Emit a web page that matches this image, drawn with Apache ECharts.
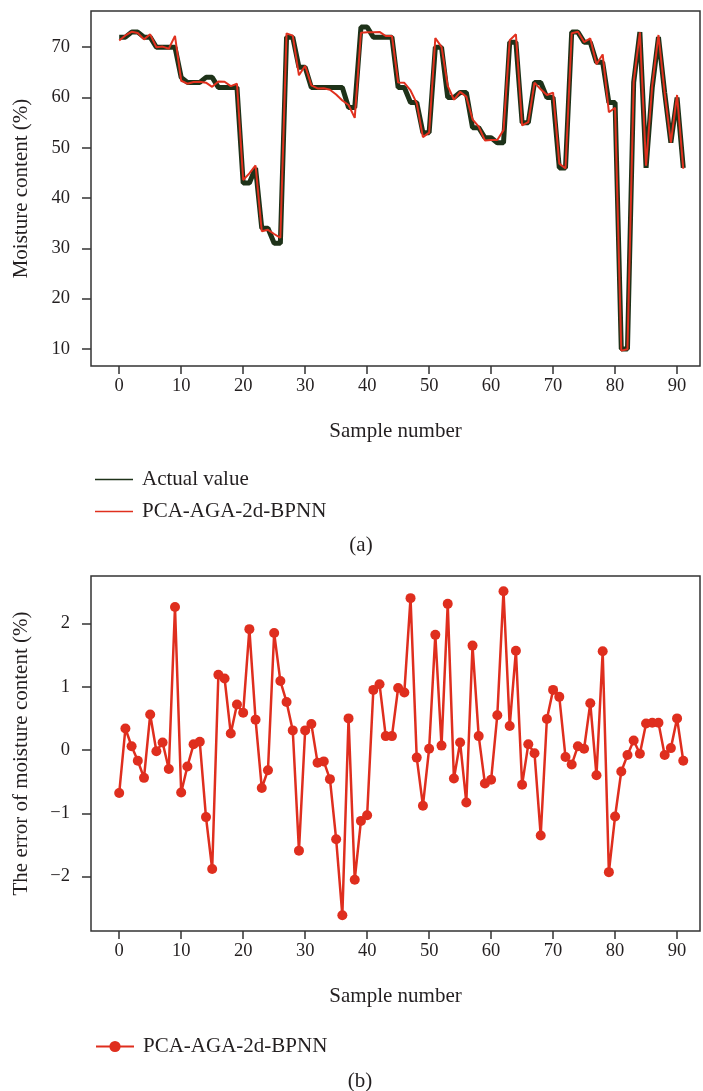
<!DOCTYPE html>
<html lang="en">
<head>
<meta charset="UTF-8">
<title>Moisture content</title>
<script src="https://cdn.jsdelivr.net/npm/echarts@6/dist/echarts.min.js"></script>
<style>
    html, body { margin: 0; padding: 0; background: #fff; }
    #chart { width: 703px; height: 1091px; }
</style>
</head>
<body>
<div id="chart"></div>
<script>
    // measured moisture content, sample 0..91
    var actualValues = [72, 72, 73, 73, 72, 72, 70, 70, 70, 70,
        64, 63, 63, 63, 64, 64, 62, 62, 62, 62,
        43, 43, 46, 34, 34, 31, 31, 72, 72, 66,
        66, 62, 62, 62, 62, 62, 62, 58, 58, 74,
        74, 72, 72, 72, 72, 62, 62, 59, 59, 53,
        53, 70, 70, 60, 60, 61, 61, 54, 54, 52,
        52, 51, 51, 71, 71, 55, 55, 63, 63, 60,
        60, 46, 46, 73, 73, 71, 71, 67, 67, 59,
        59, 10, 10, 63, 73, 46, 62, 72, 61, 51,
        60, 46];
    // model output
    var predictedValues = [71.32, 72.34, 73.06, 72.83, 71.56, 72.56, 69.98, 70.12, 69.70, 72.26,
        63.33, 62.74, 63.09, 63.13, 62.94, 62.12, 63.19, 63.13, 62.26, 62.72,
        43.59, 44.91, 46.48, 33.40, 33.68, 32.85, 32.09, 72.76, 72.31, 64.41,
        66.31, 62.41, 61.80, 61.82, 61.54, 60.59, 59.39, 58.50, 55.95, 72.88,
        72.97, 72.95, 73.04, 72.22, 72.22, 62.98, 62.91, 61.40, 58.88, 52.12,
        53.02, 71.82, 70.07, 62.31, 59.55, 61.12, 60.17, 55.65, 54.22, 51.47,
        51.53, 51.55, 53.51, 71.38, 72.57, 54.45, 55.09, 62.95, 61.65, 60.49,
        60.95, 46.84, 45.89, 72.77, 73.06, 71.02, 71.74, 66.60, 68.56, 57.07,
        57.95, 9.66, 9.92, 63.15, 72.94, 46.42, 62.43, 72.43, 60.92, 51.03,
        60.50, 45.83];
    // prediction error
    var errorValues = [-0.68, 0.34, 0.06, -0.17, -0.44, 0.56, -0.02, 0.12, -0.30, 2.26,
        -0.67, -0.26, 0.09, 0.13, -1.06, -1.88, 1.19, 1.13, 0.26, 0.72,
        0.59, 1.91, 0.48, -0.60, -0.32, 1.85, 1.09, 0.76, 0.31, -1.59,
        0.31, 0.41, -0.20, -0.18, -0.46, -1.41, -2.61, 0.50, -2.05, -1.12,
        -1.03, 0.95, 1.04, 0.22, 0.22, 0.98, 0.91, 2.40, -0.12, -0.88,
        0.02, 1.82, 0.07, 2.31, -0.45, 0.12, -0.83, 1.65, 0.22, -0.53,
        -0.47, 0.55, 2.51, 0.38, 1.57, -0.55, 0.09, -0.05, -1.35, 0.49,
        0.95, 0.84, -0.11, -0.23, 0.06, 0.02, 0.74, -0.40, 1.56, -1.93,
        -1.05, -0.34, -0.08, 0.15, -0.06, 0.42, 0.43, 0.43, -0.08, 0.03,
        0.50, -0.17];
    var xTicks = [0, 10, 20, 30, 40, 50, 60, 70, 80, 90];
    var moistureTicks = [10, 20, 30, 40, 50, 60, 70];
    var errorTicks = [-2, -1, 0, 1, 2];

    var font = 'Liberation Serif';
    var ink = '#231f20';
    var frame = '#333333';

    function pairs(arr) {
        return arr.map(function (v, i) { return [i, v]; });
    }
    function minus(v) {
        return String(v).replace('-', '\u2212');
    }

    function xAxisFor(gridIndex) {
        return {
            type: 'value', gridIndex: gridIndex, min: -4.55, max: 93.7,
            name: 'Sample number', nameLocation: 'middle', nameGap: 55,
            nameTextStyle: {fontFamily: font, fontSize: 21, color: ink},
            axisLine: {show: false, onZero: false},
            axisTick: {show: true, length: 8, customValues: xTicks, lineStyle: {color: frame, width: 1.5}},
            axisLabel: {customValues: xTicks, margin: 11, fontFamily: font, fontSize: 18.5, color: ink},
            splitLine: {show: false}
        };
    }
    function yAxisFor(gridIndex, name, lo, hi, ticks) {
        return {
            type: 'value', gridIndex: gridIndex, min: lo, max: hi,
            name: name, nameLocation: 'middle', nameGap: 59,
            nameTextStyle: {fontFamily: font, fontSize: 21, color: ink},
            axisLine: {show: false, onZero: false},
            axisTick: {show: true, length: 9, customValues: ticks, lineStyle: {color: frame, width: 1.5}},
            axisLabel: {customValues: ticks, margin: 21, fontFamily: font, fontSize: 18.5, color: ink, formatter: minus},
            splitLine: {show: false}
        };
    }

    var chart = echarts.init(document.getElementById('chart'));
    var option = {
        animation: false,
        backgroundColor: '#fff',
        grid: [
            {left: 91, top: 11, width: 609, height: 355, show: true, borderColor: frame, borderWidth: 1.5, backgroundColor: 'transparent'},
            {left: 91, top: 576, width: 609, height: 355, show: true, borderColor: frame, borderWidth: 1.5, backgroundColor: 'transparent'}
        ],
        xAxis: [xAxisFor(0), xAxisFor(1)],
        yAxis: [
            yAxisFor(0, 'Moisture content (%)', 6.6, 77.2, moistureTicks),
            yAxisFor(1, 'The error of moisture content (%)', -2.86, 2.75, errorTicks)
        ],
        legend: [
            {
                data: [{name: 'Actual value', icon: 'rect'}, {name: 'PCA-AGA-2d-BPNN', icon: 'rect'}],
                orient: 'vertical', left: 90, top: 464, itemGap: 11,
                itemWidth: 38, itemHeight: 1.5,
                textStyle: {fontFamily: font, fontSize: 21, lineHeight: 20, color: ink, padding: [0, 0, 0, 4]}
            },
            {
                data: ['error'],
                formatter: function () { return 'PCA-AGA-2d-BPNN'; },
                left: 90, top: 1031,
                itemWidth: 38, itemHeight: 14,
                lineStyle: {width: 2},
                textStyle: {fontFamily: font, fontSize: 21, lineHeight: 20, color: ink, padding: [0, 0, 0, 4]}
            }
        ],
        graphic: [
            {type: 'text', x: 361, y: 545, style: {text: '(a)', font: '21px "Liberation Serif"', fill: ink, align: 'center', verticalAlign: 'middle'}},
            {type: 'text', x: 360, y: 1081, style: {text: '(b)', font: '21px "Liberation Serif"', fill: ink, align: 'center', verticalAlign: 'middle'}}
        ],
        series: [
            {
                name: 'Actual value', type: 'line', xAxisIndex: 0, yAxisIndex: 0,
                data: pairs(actualValues), symbol: 'none', z: 2,
                color: '#1e3219',
                lineStyle: {color: '#1e3219', width: 5}
            },
            {
                name: 'PCA-AGA-2d-BPNN', type: 'line', xAxisIndex: 0, yAxisIndex: 0,
                data: pairs(predictedValues), symbol: 'none', z: 3,
                color: '#e0301e',
                lineStyle: {color: '#e0301e', width: 2}
            },
            {
                name: 'error', type: 'line', xAxisIndex: 1, yAxisIndex: 1,
                data: pairs(errorValues), symbol: 'circle', symbolSize: 10,
                color: '#df2e1e',
                lineStyle: {color: '#df2e1e', width: 2.5},
                itemStyle: {color: '#df2e1e'}
            }
        ]
    };
    chart.setOption(option);
</script>
</body>
</html>
